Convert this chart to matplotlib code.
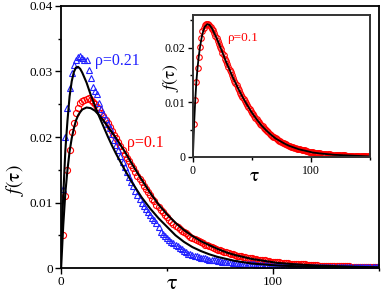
import numpy as np
import matplotlib
matplotlib.use("Agg")
import matplotlib.pyplot as plt
from matplotlib.ticker import MultipleLocator

plt.rcParams['font.family'] = ['Liberation Serif', 'DejaVu Serif']
plt.rcParams['mathtext.fontset'] = 'stix'

# simulation points, tau = 1 ... 150
tau_pts = list(range(1, 151))

f_rho01 = [.0050, .0110, .0150, .0180, .0207, .0222, .0236, .0245, .0252, .0255,
           .0257, .0258, .0259, .0257, .0254, .0250, .0246, .0242, .0237, .0232,
           .0226, .0221, .0215, .0209, .0203, .0198, .0192, .0186, .0180, .0174,
           .0168, .0163, .0157, .0152, .0146, .0141, .0136, .0131, .0126, .0121,
           .0116, .0111, .0106, .0102, .0097, .0093, .0089, .0085, .0081, .0078,
           .0074, .0071, .0068, .0065, .0062, .0060, .0057, .0055, .0053, .0050,
           .0048, .0046, .0044, .0043, .0041, .0040, .0038, .0036, .0035, .0033,
           .0032, .0031, .0029, .0028, .0027, .0026, .0025, .0024, .0023, .0022,
           .0021, .0020, .0019, .0019, .0018, .0017, .0017, .0016, .0015, .0015,
           .0014, .0014, .0013, .0012, .0012, .0012, .0011, .0011, .0010, .0010,
           .0009, .0009, .0009, .0008, .0008, .0008, .0008, .0007, .0007, .0007,
           .0007, .0006, .0006, .0006, .0006, .0005, .0005, .0005, .0005, .0005,
           .0005, .0004, .0004, .0004, .0004, .0004, .0004, .0003, .0003, .0003,
           .0003, .0003, .0003, .0003, .0003, .0003, .0002, .0002, .0002, .0002,
           .0002, .0002, .0002, .0002, .0002, .0002, .0002, .0001, .0001, .0001]

f_rho021 = [.0120, .0200, .0245, .0275, .0298, .0310, .0318, .0322, .0323, .0321,
            .0318, .0318, .0302, .0290, .0276, .0270, .0265, .0252, .0243, .0235,
            .0228, .0220, .0213, .0205, .0196, .0188, .0180, .0171, .0162, .0155,
            .0147, .0139, .0132, .0125, .0118, .0112, .0106, .0100, .0095, .0090,
            .0086, .0081, .0077, .0073, .0069, .0063, .0055, .0052, .0049, .0046,
            .0043, .0040, .0038, .0035, .0033, .0031, .0029, .0026, .0024, .0022,
            .0021, .0020, .0019, .0018, .0017, .0016, .0015, .0015, .0014, .0013,
            .0013, .0012, .0012, .0011, .0011, .0010, .0010, .0009, .0009, .0009,
            .0008, .0008, .0008, .0007, .0007, .0007, .0007, .0006, .0006, .0006,
            .0006, .0005, .0005, .0005, .0005, .0005, .0005, .0004, .0004, .0004,
            .0004, .0004, .0004, .0003, .0003, .0003, .0003, .0003, .0003, .0003,
            .0003, .0002, .0002, .0002, .0002, .0002, .0002, .0002, .0002, .0002,
            .0002, .0002, .0002, .0002, .0002, .0001, .0001, .0001, .0001, .0001,
            .0001, .0001, .0001, .0001, .0001, .0001, .0001, .0001, .0001, .0001,
            .0001, .0001, .0001, .0001, .0001, .0001, .0001, .0001, .0001, .0001]

f_inset = [.0060, .0105, .0138, .0163, .0184, .0202, .0218, .0230, .0236, .0242,
           .0244, .0244, .0243, .0241, .0238, .0235, .0232, .0227, .0222, .0217,
           .0212, .0207, .0202, .0197, .0191, .0186, .0180, .0175, .0170, .0165,
           .0160, .0155, .0150, .0145, .0140, .0136, .0131, .0127, .0122, .0118,
           .0114, .0110, .0106, .0102, .0099, .0095, .0091, .0088, .0084, .0081,
           .0078, .0075, .0072, .0069, .0066, .0064, .0061, .0058, .0056, .0053,
           .0051, .0049, .0047, .0045, .0043, .0041, .0039, .0037, .0036, .0034,
           .0033, .0031, .0030, .0029, .0028, .0026, .0025, .0024, .0023, .0022,
           .0021, .0020, .0019, .0018, .0018, .0017, .0016, .0015, .0015, .0014,
           .0014, .0013, .0013, .0012, .0012, .0011, .0011, .0010, .0010, .0009,
           .0009, .0009, .0008, .0008, .0008, .0007, .0007, .0007, .0006, .0006,
           .0006, .0006, .0005, .0005, .0005, .0005, .0004, .0004, .0004, .0004,
           .0004, .0003, .0003, .0003, .0003, .0003, .0003, .0003, .0003, .0002,
           .0002, .0002, .0002, .0002, .0002, .0002, .0002, .0002, .0002, .0002,
           .0002, .0001, .0001, .0001, .0001, .0001, .0001, .0001, .0001, .0001]

# fitted curves
tau_fit = [0, 1, 2, 3, 4, 5, 6, 7, 8, 9, 10,
           12, 14, 16, 18, 20, 22, 24, 26, 28, 30,
           34, 38, 42, 46, 50, 54, 58, 62, 66, 70, 74, 78, 82, 86, 90, 94, 98, 102,
           110, 120, 130, 140, 150]

fit_rho021 = [0.0035, 0.0110, 0.0180, 0.0225, 0.0262, 0.0285, 0.0299, 0.0306, 0.0307, 0.0304, 0.0298,
              0.0283, 0.0264, 0.0247, 0.0231, 0.0216, 0.0201, 0.0187, 0.0174, 0.0162, 0.0150,
              0.0128, 0.0108, 0.0091, 0.0076, 0.0063, 0.0050, 0.0040, 0.0032, 0.0026, 0.0021,
              0.0017, 0.0014, 0.0011, 0.0009, 0.0007, 0.0006, 0.0005, 0.0004,
              0.0003, 0.0002, 0.00015, 0.0001, 0.0001]

fit_rho01 = [0.0, 0.0065, 0.0115, 0.0150, 0.0178, 0.0198, 0.0213, 0.0225, 0.0233, 0.0238, 0.0242,
             0.0245, 0.0244, 0.0240, 0.0233, 0.0225, 0.0216, 0.0207, 0.0198, 0.0188, 0.0178,
             0.0156, 0.0135, 0.0115, 0.0097, 0.0082, 0.0069, 0.0058, 0.0049, 0.0041, 0.0035,
             0.0029, 0.0024, 0.0020, 0.0017, 0.0014, 0.0012, 0.0010, 0.0008,
             0.0006, 0.0004, 0.0003, 0.0002, 0.0001]

fit_inset = [0.0, 0.0060, 0.0105, 0.0140, 0.0165, 0.0185, 0.0201, 0.0214, 0.0225, 0.0232, 0.0238,
             0.0243, 0.0242, 0.0236, 0.0227, 0.0218, 0.0208, 0.0197, 0.0186, 0.0175, 0.0165,
             0.0145, 0.0127, 0.0110, 0.0095, 0.0081, 0.0069, 0.0058, 0.0049, 0.0041, 0.0034,
             0.0029, 0.0024, 0.0020, 0.0017, 0.0014, 0.0012, 0.0010, 0.0008,
             0.0006, 0.0004, 0.0003, 0.0002, 0.0001]

red = '#ff0000'
blue = '#2020ff'

fig = plt.figure(figsize=(3.82, 2.94), dpi=100)
ax = fig.add_axes([0.160, 0.088, 0.832, 0.892])

ax.plot(tau_pts, f_rho01, 'o', mfc='none', mec=red, ms=4.4, mew=0.8)
ax.plot(tau_pts, f_rho021, '^', mfc='none', mec=blue, ms=4.8, mew=0.8)
ax.plot(tau_fit, fit_rho021, '-', color='k', lw=1.5)
ax.plot(tau_fit, fit_rho01, '-', color='k', lw=1.5)

ax.set_xlim(0, 150)
ax.set_ylim(0, 0.04)
ax.xaxis.set_major_locator(MultipleLocator(100))
ax.xaxis.set_minor_locator(MultipleLocator(50))
ax.set_yticks([0, 0.01, 0.02, 0.03, 0.04])
ax.set_yticklabels(['0', '0.01', '0.02', '0.03', '0.04'])
ax.yaxis.set_minor_locator(MultipleLocator(0.005))
ax.tick_params(which='major', direction='out', length=4, width=1, labelsize=9.5, pad=2)
ax.tick_params(which='minor', direction='out', length=2.5, width=1)
for s in ax.spines.values():
    s.set_linewidth(1.3)
ax.set_xlabel(r'$\mathrm{\tau}$', fontsize=16)
ax.xaxis.set_label_coords(0.35, -0.025)
ax.set_ylabel(r'$f(\mathrm{\tau})$', fontsize=14)
ax.yaxis.set_label_coords(-0.112, 0.336)

ax.text(16, 0.0316, 'ρ=0.21', color=blue, fontsize=11.5, va='center')
ax.text(31, 0.0191, 'ρ=0.1', color=red, fontsize=11.5, va='center')

# inset
ins = fig.add_axes([0.505, 0.466, 0.4636, 0.483])
ins.plot(tau_pts, f_inset, 'o', mfc='none', mec=red, ms=4, mew=0.8)
ins.plot(tau_fit, fit_inset, '-', color='k', lw=1.3)
ins.set_xlim(0, 150)
ins.set_ylim(0, 0.026)
ins.xaxis.set_major_locator(MultipleLocator(100))
ins.xaxis.set_minor_locator(MultipleLocator(50))
ins.set_yticks([0, 0.01, 0.02])
ins.set_yticklabels(['0', '0.01', '0.02'])
ins.yaxis.set_minor_locator(MultipleLocator(0.005))
ins.tick_params(which='major', direction='out', length=3.5, width=1, labelsize=8.5, pad=2)
ins.tick_params(which='minor', direction='out', length=2.5, width=1)
for s in ins.spines.values():
    s.set_linewidth(1.4)
    s.set_color('#333333')
ins.set_xlabel(r'$\mathrm{\tau}$', fontsize=14)
ins.xaxis.set_label_coords(0.345, -0.08)
ins.set_ylabel(r'$f(\mathrm{\tau})$', fontsize=12.5)
ins.yaxis.set_label_coords(-0.07, 0.556)
ins.text(28.8, 0.0217, 'ρ=0.1', color=red, fontsize=9.5, va='center')

fig.savefig('out.png', dpi=100)
